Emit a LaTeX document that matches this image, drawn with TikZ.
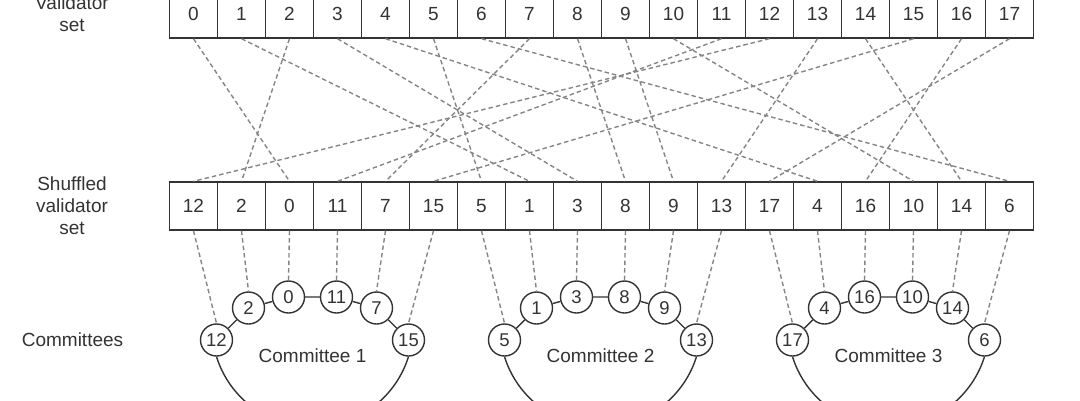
\documentclass[tikz,border=0pt]{standalone}
\usepackage{fontspec}
\setmainfont{Liberation Sans}
\definecolor{ink}{HTML}{333333}
\definecolor{dashgray}{HTML}{858585}
\newcommand\committee[8]{%
  \node[member] (v#3) at (#2,340) {#3};
  \node[member] (v#4) at ({#2+32},308) {#4};
  \node[member] (v#5) at ({#2+72},297) {#5};
  \node[member] (v#6) at ({#2+120},297) {#6};
  \node[member] (v#7) at ({#2+160},308) {#7};
  \node[member] (v#8) at ({#2+192},340) {#8};
  \draw[tie] (v#3) -- (v#4) -- (v#5) -- (v#6) -- (v#7) -- (v#8);
  \draw[tie] (v#3.south) arc[start angle=197.4,end angle=342.6,radius=100.6pt];
  \node[sidetext] (cname#3) at ({#2+96},356) {#1};
}
\begin{document}
\begin{tikzpicture}[x=1pt,y=-1pt,
  cell/.style={draw=ink, line width=1.4pt, minimum width=48pt, minimum height=48pt, inner sep=0pt, text=ink, font=\fontsize{19}{22}\selectfont},
  member/.style={circle, draw=ink, line width=1.4pt, minimum size=32pt, inner sep=0pt, text=ink, font=\fontsize{18.5}{22}\selectfont},
  perm/.style={draw=dashgray, line width=1.4pt, dash pattern=on 4.5pt off 3pt},
  sidetext/.style={text=ink, align=center, font=\fontsize{19}{22}\selectfont},
  tie/.style={draw=ink, line width=1.4pt}]
\useasboundingbox (0,0) rectangle (1080,400);
\clip (0,0) rectangle (1080,400);
\node[sidetext] (toplabel) at (72,14) {Validator\\set};
\node[sidetext] (shuflabel) at (72,206) {Shuffled\\validator\\set};
\node[sidetext] (comlabel) at (72.5,340) {Committees};
\foreach \i in {0,...,17} {
  \node[cell] (t\i) at ({193.5+48*\i},14) {\i};
}
\committee{Committee 1}{216.5}{12}{2}{0}{11}{7}{15}
\committee{Committee 2}{504.5}{5}{1}{3}{8}{9}{13}
\committee{Committee 3}{792.5}{17}{4}{16}{10}{14}{6}
\foreach \v [count=\k from 0] in {12,2,0,11,7,15,5,1,3,8,9,13,17,4,16,10,14,6} {
  \node[cell] (s\k) at ({193.5+48*\k},206) {\v};
  \draw[perm] (t\v.south) -- (s\k.north);
  \draw[perm] (s\k.south) -- (v\v.north);
}
\end{tikzpicture}
\end{document}
